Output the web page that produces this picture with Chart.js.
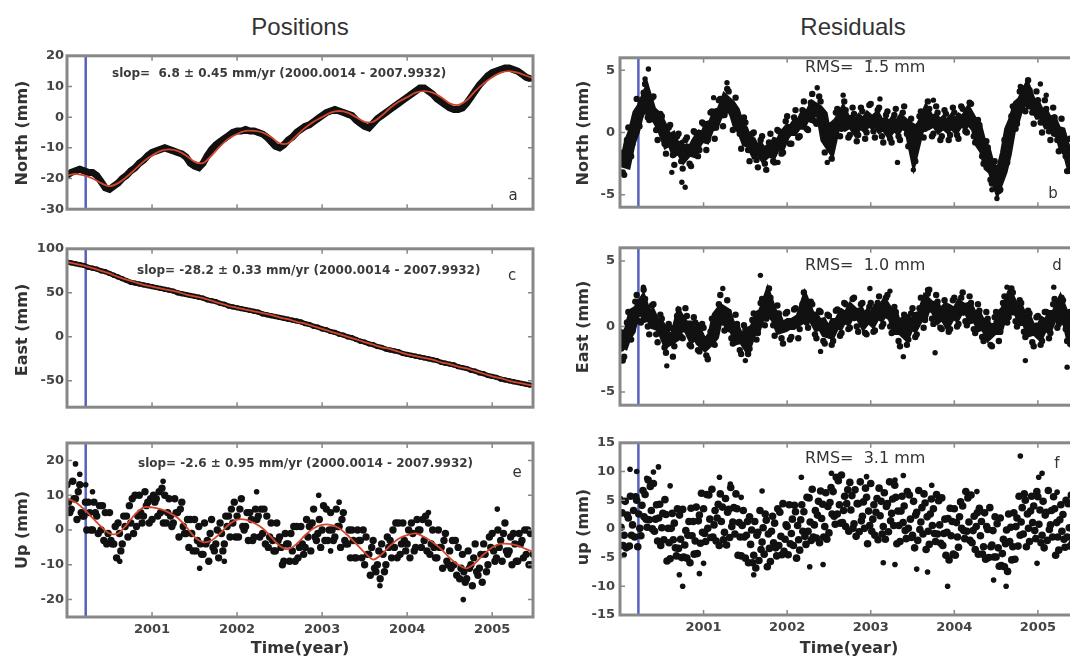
<!DOCTYPE html>
<html lang="en">
<head>
<meta charset="UTF-8">
<title>Positions and residuals</title>
<script src="https://cdn.jsdelivr.net/npm/chart.js"></script>
<style>
  html, body { margin: 0; padding: 0; background: #fff; overflow: hidden; }
  body { font-family: "DejaVu Sans", sans-serif; color: #333; }
  .page { position: relative; width: 1070px; height: 662px; overflow: hidden; }
  canvas { position: absolute; }
  .txt { position: absolute; white-space: pre; line-height: 1; }
  .title { font-family: "Liberation Sans", Arial, sans-serif; font-size: 24px; color: #333; transform: translate(-50%, -50%); }
  .ylab { font-weight: bold; font-size: 16px; color: #333; transform: translate(-50%, -50%) rotate(-90deg); }
  .slope { font-weight: bold; font-size: 12px; color: #3a3a3a; transform: translateY(-50%); }
  .rms { font-size: 16px; color: #333; transform: translateY(-50%); }
  .tag { font-size: 15px; color: #333; transform: translate(-50%, -50%); }
</style>
</head>
<body>
<div class="page">
  <div class="txt title" style="left:300px;top:27px">Positions</div>
  <div class="txt title" style="left:853px;top:27px">Residuals</div>

  <canvas id="northPos" width="540" height="175" style="left:0;top:45px"></canvas>
  <canvas id="eastPos" width="540" height="180" style="left:0;top:238px"></canvas>
  <canvas id="upPos" width="540" height="232" style="left:0;top:430px"></canvas>
  <canvas id="northRes" width="533" height="175" style="left:550px;top:45px"></canvas>
  <canvas id="eastRes" width="533" height="183" style="left:550px;top:235px"></canvas>
  <canvas id="upRes" width="533" height="232" style="left:550px;top:430px"></canvas>

  <div class="txt ylab" style="left:22px;top:133px">North (mm)</div>
  <div class="txt ylab" style="left:22px;top:330px">East (mm)</div>
  <div class="txt ylab" style="left:22px;top:530px">Up (mm)</div>
  <div class="txt ylab" style="left:583px;top:133px">North (mm)</div>
  <div class="txt ylab" style="left:583px;top:327px">East (mm)</div>
  <div class="txt ylab" style="left:583px;top:527px">up (mm)</div>

  <div class="txt slope" style="left:112px;top:73px">slop=  6.8 ± 0.45 mm/yr (2000.0014 - 2007.9932)</div>
  <div class="txt slope" style="left:137px;top:270px">slop= -28.2 ± 0.33 mm/yr (2000.0014 - 2007.9932)</div>
  <div class="txt slope" style="left:138px;top:463px">slop= -2.6 ± 0.95 mm/yr (2000.0014 - 2007.9932)</div>
  <div class="txt rms" style="left:805px;top:67px">RMS=  1.5 mm</div>
  <div class="txt rms" style="left:805px;top:265px">RMS=  1.0 mm</div>
  <div class="txt rms" style="left:805px;top:458px">RMS=  3.1 mm</div>

  <div class="txt tag" style="left:513px;top:195px">a</div>
  <div class="txt tag" style="left:512px;top:275px">c</div>
  <div class="txt tag" style="left:517px;top:472px">e</div>
  <div class="txt tag" style="left:1053px;top:193px">b</div>
  <div class="txt tag" style="left:1057px;top:265px">d</div>
  <div class="txt tag" style="left:1057px;top:463px">f</div>
</div>

<script>
// time axis (decimal year), one sample every 0.05 yr
const epochs = [
  2000.00,2000.05,2000.10,2000.15,2000.20,2000.25,2000.30,2000.35,2000.40,2000.45,
  2000.50,2000.55,2000.60,2000.65,2000.70,2000.75,2000.80,2000.85,2000.90,2000.95,
  2001.00,2001.05,2001.10,2001.15,2001.20,2001.25,2001.30,2001.35,2001.40,2001.45,
  2001.50,2001.55,2001.60,2001.65,2001.70,2001.75,2001.80,2001.85,2001.90,2001.95,
  2002.00,2002.05,2002.10,2002.15,2002.20,2002.25,2002.30,2002.35,2002.40,2002.45,
  2002.50,2002.55,2002.60,2002.65,2002.70,2002.75,2002.80,2002.85,2002.90,2002.95,
  2003.00,2003.05,2003.10,2003.15,2003.20,2003.25,2003.30,2003.35,2003.40,2003.45,
  2003.50,2003.55,2003.60,2003.65,2003.70,2003.75,2003.80,2003.85,2003.90,2003.95,
  2004.00,2004.05,2004.10,2004.15,2004.20,2004.25,2004.30,2004.35,2004.40,2004.45,
  2004.50,2004.55,2004.60,2004.65,2004.70,2004.75,2004.80,2004.85,2004.90,2004.95,
  2005.00,2005.05,2005.10,2005.15,2005.20,2005.25,2005.30,2005.35,2005.40,2005.45
];
// interleaved series are sampled a few days after the main one
const shifted = d => epochs.map(t => t + d);
// fitted model curves, one sample every 0.1 yr
const modelEpochs = [
  2000.0,2000.1,2000.2,2000.3,2000.4,2000.5,2000.6,2000.7,2000.8,2000.9,
  2001.0,2001.1,2001.2,2001.3,2001.4,2001.5,2001.6,2001.7,2001.8,2001.9,
  2002.0,2002.1,2002.2,2002.3,2002.4,2002.5,2002.6,2002.7,2002.8,2002.9,
  2003.0,2003.1,2003.2,2003.3,2003.4,2003.5,2003.6,2003.7,2003.8,2003.9,
  2004.0,2004.1,2004.2,2004.3,2004.4,2004.5,2004.6,2004.7,2004.8,2004.9,
  2005.0,2005.1,2005.2,2005.3,2005.4,2005.5
];
const yearTicks = [2001, 2002, 2003, 2004, 2005];
const changeEpoch = 2000.22;   // blue marker line

// --- positions (mm) ---
const northObs = [
  -19,-18,-17.5,-17,-17.5,-18,-18,-19,-21,-23,
  -23.5,-22.5,-21.5,-20,-19,-17.5,-16.5,-15,-14,-12.5,
  -11.5,-11,-10.5,-10,-10.5,-11,-11.5,-12,-13,-15,
  -16,-16.5,-15,-12.5,-10.5,-9,-8,-7,-6,-5,
  -4.5,-4.5,-4,-4.5,-4.5,-5,-5.5,-6.5,-8,-9.5,
  -10,-9,-7.5,-6.5,-5,-4,-3,-2.5,-1.5,-0.5,
  0.5,1.5,2,2.5,2,1.5,1,0.5,-1,-2,
  -3,-3.5,-2,-0.5,0.5,1.5,2.5,3.5,4.5,5.5,
  6.5,7.5,8.5,9.5,9.5,8.5,7.5,6,5,4,
  3,2.5,2.5,3,4.5,6.5,8.5,10.5,12,13.5,
  14.5,15,15.5,16,16,15.5,15,14,13,12.5
];
const northModel = [
  -19,-18.5,-19,-20,-21.5,-22.5,-21.5,-19.5,-17,-14.5,
  -12.5,-11,-10.5,-11,-12.5,-14.5,-15,-12.5,-9.5,-7,
  -5.5,-4.5,-4.5,-5,-6.5,-8.5,-8.5,-6,-3.5,-1.5,
  0,1.5,2,1.5,0,-1.5,-1.5,0.5,3,5,
  6.5,8,8.5,8,6.5,4.5,4,5.5,8.5,11,
  13,14.5,15,14.5,13.5,12.5
];
const eastObs = [
  85,84,83,82,81,79,78,77,75,74,
  72,70,68,66,64,62,61,60,59,58,
  57,56,55,54,53,52,50,49,48,47,
  46,45,44,42,41,40,38,37,35,34,
  33,32,31,30,29,28,26,25,24,23,
  22,21,20,19,18,17,15,14,12,11,
  9,8,6,5,3,2,0,-1,-3,-5,
  -6,-8,-9,-11,-12,-14,-15,-16,-17,-19,
  -20,-21,-22,-23,-24,-25,-26,-27,-29,-30,
  -31,-32,-34,-35,-36,-38,-39,-41,-42,-44,
  -45,-46,-48,-49,-50,-51,-52,-53,-54,-55
];
const eastModel = [
  85,83,81,78,75,72,68,65,62,59,
  57,55,53,51,48,46,44,41,38,35,
  33,31,29,27,25,22,20,17,15,12,
  9,6,3,0,-3,-6,-9,-12,-14,-17,
  -20,-22,-24,-26,-29,-31,-34,-36,-39,-42,
  -45,-47,-50,-52,-54,-56
];
const upObs1 = [
  13,6,9,13,4,8,0,4,0,5,
  5,-4,2,-4,4,2,10,10,4,8,
  3,9,5,10,9,2,5,8,-1,3,
  3,1,-7,-3,3,-4,2,-4,4,2,
  4,9,1,5,-2,4,-1,4,2,-6,
  -2,-9,-4,-6,1,1,-5,1,6,-1,
  0,6,5,-2,1,5,-4,0,-8,-3,
  -10,-7,-3,-10,-4,-10,-3,-5,2,2,
  -4,2,-5,0,-3,2,0,-8,-5,-1,
  -6,-10,-5,-7,-14,-10,-4,-11,-4,-10,
  -1,-8,-3,2,-6,-1,-9,-3,-7,-1
];
const upObs2 = [
  8,14,3,5,8,5,8,-1,7,-4,
  -3,1,-1,4,-2,9,1,5,11,2,
  10,4,12,2,4,9,-2,1,3,-1,
  -6,-4,2,-9,-5,0,-1,4,-2,8,
  -2,1,5,3,6,-2,6,-5,-3,2,
  -5,-1,-9,1,-8,-4,3,-6,-2,3,
  7,-3,0,6,-5,-3,0,-3,0,-8,
  -2,-13,-11,-6,-7,-2,-8,2,-7,-3,
  0,-1,3,-5,4,-7,-5,0,-11,-9,
  -11,-3,-14,-12,-6,-16,-12,-7,-7,-2,
  -6,0,-9,-6,-2,-4,-1,-8,0,-10
];
const upObs3 = [
  5,9,11,4,0,0,5,7,-3,-1,
  -4,-8,-6,1,7,-1,4,2,7,9,
  8,11,2,5,1,5,6,-1,-5,-6,
  -3,-7,-4,-1,-6,-8,-6,1,6,-2,
  6,0,-3,-3,3,6,-4,-2,-6,-3,
  -10,-4,-1,-9,-5,-7,-2,2,-3,-5,
  -3,0,-3,1,3,-4,-8,-8,-3,0,
  -7,-5,-12,-14,-12,-5,0,-8,-4,-6,
  -8,-6,0,3,-6,-4,-8,-5,-3,-10,
  -3,-13,-11,-15,-11,-8,-13,-15,-12,-5,
  -9,-5,-1,-7,-10,-9,-4,0,-10,-7
];
const upOutliers = [
  [2000.10,19],[2000.15,16],[2000.22,13],[2000.30,11],[2000.62,-9],[2001.13,14],
  [2001.56,-11],[2001.85,-9],[2002.23,11],[2002.96,10],[2003.10,-6],[2003.20,8],
  [2003.68,-16],[2004.25,5],[2004.66,-20],[2005.06,6]
];
const upModel = [
  9,8,6,3.5,1,-1,-1,1.5,4.5,6.5,
  6.5,6,5,3.5,1,-2,-3.5,-3,-1,1.5,
  3,3,2,0.5,-2,-4.5,-5.5,-4,-1.5,0.5,
  1.5,1.5,0.5,-1.5,-4,-6.5,-8.5,-7,-4.5,-2.5,
  -1.5,-1,-2,-3.5,-5.5,-8,-10,-11,-9.5,-7,
  -5,-4,-4,-4.5,-5.5,-6.5
];

// --- residuals (mm) ---
const northRes1 = [
  -1.6,-3.4,0.4,-0.9,2.7,1.4,3.9,1.0,2.9,-0.6,
  1.3,-1.7,0.6,-2.6,-0.1,-2.9,-0.4,-2.7,0.0,-1.4,
  0.7,-0.6,1.7,0.4,2.7,1.4,3.3,0.2,1.6,-1.3,
  0.8,-2.3,0.0,-2.8,-0.3,-3.0,-0.1,-2.4,0.1,-1.6,
  1.3,-0.9,1.8,-0.3,2.5,0.2,3.1,0.7,2.5,-1.6,
  0.1,-0.6,1.9,0.3,1.8,-0.2,1.5,-0.2,1.7,0.0,
  2.3,-0.4,2.0,-0.8,1.7,-0.8,1.9,-0.6,2.1,-1.1,
  -0.1,-0.9,1.7,0.3,1.9,-0.1,1.6,-0.3,1.5,-0.2,
  1.6,-0.5,1.9,0.0,2.3,-0.8,0.6,-2.5,-1.2,-4.1,
  -2.9,-4.6,-0.6,-1.3,2.1,0.7,3.6,1.7,3.4,0.7,
  2.6,0.0,1.9,-0.6,1.2,-1.5,-0.1,-3.1,-1.8,-4.5
];
const northRes2 = [
  -2.3,-2.4,-0.8,0.1,1.5,2.0,2.8,1.7,1.4,0.9,
  0.2,-0.7,-0.5,-1.4,-1.2,-1.8,-1.4,-1.5,-0.8,-0.3,
  -0.4,0.5,0.6,1.5,1.6,2.5,2.2,1.7,0.6,0.2,
  -0.7,-0.8,-1.5,-1.3,-1.8,-1.5,-1.6,-0.9,-1.0,-0.2,
  0.2,0.2,0.7,0.7,1.4,1.3,2.0,1.8,1.4,-0.5,
  -1.0,0.5,0.8,1.4,0.7,0.9,0.4,0.9,0.6,1.1,
  0.8,1.1,0.5,0.7,0.2,0.7,0.4,0.9,0.6,0.4,
  -1.2,0.2,0.6,1.4,0.8,1.0,0.5,0.8,0.5,0.9,
  0.5,1.0,0.8,1.4,0.8,0.4,-0.9,-1.4,-2.7,-3.0,
  -4.0,-3.1,-1.7,0.2,1.0,2.2,2.5,3.2,2.3,2.2,
  1.5,1.5,0.8,0.9,0.1,0.0,-1.2,-1.6,-2.9,-3.0
];
const northRes3 = [
  -3.2,-0.6,-1.9,1.2,0.5,3.2,1.2,2.8,0.2,1.5,
  -0.9,0.4,-1.8,-0.3,-2.3,-0.6,-2.5,0.1,-1.9,0.8,
  -1.4,1.6,-0.5,2.6,0.5,3.5,1.6,2.8,-0.1,1.2,
  -1.4,-0.1,-2.2,-0.6,-2.5,-0.8,-2.3,0.2,-1.7,0.9,
  -0.9,1.2,-0.4,1.8,0.3,2.4,0.9,2.9,0.0,0.6,
  -2.1,1.6,-0.3,2.5,-0.4,2.0,-0.7,2.0,-0.5,2.2,
  0.1,1.8,-0.3,1.4,-0.5,1.4,-0.3,1.6,-0.1,1.1,
  -2.3,1.3,-0.4,2.5,-0.3,2.1,-0.6,1.8,-0.6,2.0,
  -0.2,2.1,0.1,2.4,-0.3,1.0,-1.9,-0.7,-3.8,-2.3,
  -4.7,-2.0,-2.4,1.3,0.3,3.3,1.8,4.2,1.6,3.3,
  0.8,2.6,0.1,2.0,-0.6,1.1,-1.9,-0.5,-3.6,-1.9
];
const northResOutliers = [
  [2000.30,4.3],[2000.34,5.1],[2000.62,-3.2],[2000.74,-4.0],[2000.78,-4.4],[2001.12,2.8],
  [2001.28,4.0],[2001.89,-2.4],[2002.36,3.6],[2002.48,-2.4],[2002.67,3.0],[2003.11,2.7],
  [2003.32,-2.4],[2003.51,-3.0],[2003.75,2.6],[2004.45,-4.6],[2004.51,-5.3],[2004.79,3.7],
  [2005.03,3.9],[2005.10,3.0]
];
const eastRes1 = [
  -0.4,-2.3,1.1,-0.3,2.4,0.3,2.1,-0.6,1.7,-1.2,
  0.6,-2.0,-0.1,-1.5,1.3,-0.9,0.8,-1.5,0.3,-1.9,
  -0.1,-2.5,0.6,-0.4,2.4,-0.3,1.1,-1.3,0.2,-2.1,
  -0.2,-1.7,1.0,-0.5,2.1,0.6,2.2,-0.7,1.0,-1.3,
  1.1,-0.8,1.4,-0.2,2.6,-0.1,1.7,-0.9,1.1,-1.3,
  0.8,-1.1,1.3,-0.5,1.7,-0.1,2.2,-0.4,1.8,-0.6,
  1.8,-0.3,2.3,0.2,2.4,-0.5,1.1,-1.5,0.9,-1.0,
  1.4,-0.6,2.2,0.5,2.8,0.2,1.9,-0.2,1.6,-0.2,
  2.2,0.2,2.6,0.1,1.8,-0.5,1.2,-1.1,0.6,-1.5,
  1.1,-0.4,2.3,0.7,2.6,0.0,1.8,-0.8,1.0,-1.5,
  0.8,-1.1,1.1,-0.5,2.1,0.2,2.0,-1.1,0.1,-2.7
];
const eastRes2 = [
  -1.7,-0.8,-0.3,1.0,1.2,1.7,0.8,0.9,0.2,0.1,
  -0.3,-1.1,-0.9,-0.7,0.5,0.0,0.0,-0.7,-0.4,-1.1,
  -1.4,-1.1,-0.7,0.8,1.2,1.0,0.0,-0.1,-0.9,-0.8,
  -1.3,-0.4,-0.2,0.8,1.0,1.9,1.0,0.7,-0.1,0.0,
  0.2,0.2,0.4,0.6,1.6,0.8,0.7,0.1,0.2,-0.4,
  -0.5,0.2,0.2,0.8,0.6,1.2,0.9,1.0,0.4,0.8,
  0.5,1.1,0.9,1.5,1.0,0.8,-0.2,-0.2,-0.5,0.3,
  0.1,0.7,0.8,1.8,1.5,1.5,0.8,1.1,0.5,1.1,
  0.9,1.5,1.3,1.4,0.7,0.8,0.1,0.2,-0.5,-0.2,
  -0.2,0.9,1.2,2.0,1.3,1.3,0.5,0.5,-0.3,-0.2,
  -0.5,0.2,0.0,0.8,0.8,1.5,0.7,0.2,-1.2,-1.4
];
const eastRes3 = [
  -2.6,0.3,-1.0,1.9,0.4,2.8,0.0,1.6,-0.6,0.9,
  -1.6,0.2,-2.3,0.8,-0.8,1.4,-1.4,0.7,-1.8,0.2,
  -2.2,-0.4,-1.4,1.7,0.3,2.0,-0.9,0.9,-1.8,0.1,
  -2.1,0.5,-1.0,1.8,0.1,2.9,0.1,1.6,-0.9,1.0,
  -1.0,1.3,-0.9,1.7,0.3,1.9,-0.6,1.2,-1.1,0.9,
  -1.4,1.2,-0.7,1.8,-0.2,2.1,0.0,1.7,-0.5,1.5,
  -0.4,1.8,0.0,2.2,0.0,1.5,-1.1,0.5,-1.4,1.0,
  -0.8,1.4,-0.1,2.5,0.6,2.4,-0.1,2.0,-0.4,2.0,
  0.0,2.2,0.4,2.3,-0.2,1.7,-0.8,1.1,-1.4,0.7,
  -1.1,1.8,0.3,2.9,0.4,2.0,-0.4,1.2,-1.2,0.7,
  -1.4,1.1,-0.9,1.7,-0.1,2.2,-0.2,1.1,-2.1,-0.5
];
const eastResOutliers = [
  [2000.28,3.0],[2000.56,-3.0],[2001.05,-2.4],[2001.23,2.9],[2001.50,-2.6],[2001.68,3.9],
  [2002.40,-1.9],[2002.99,2.9],[2003.23,2.7],[2003.39,-2.3],[2003.68,2.8],[2003.77,-2.0],
  [2004.63,3.0],[2004.85,-2.6],[2005.19,3.0],[2005.35,-3.1]
];
const upRes1 = [
  5.1,-1.1,1.9,0.7,5.0,-1.2,6.0,1.6,7.9,-2.1,
  0.2,2.5,-5.2,1.0,-3.4,3.4,-5.1,3.6,-2.1,2.4,
  3.5,0.1,6.9,-2.1,6.1,-0.6,3.4,1.2,3.5,-4.7,
  -5.1,2.1,-4.6,-0.6,-2.3,1.5,-5.7,1.0,-2.9,4.4,
  0.4,-0.8,3.0,-3.7,3.0,-0.4,6.9,-1.6,6.6,0.4,
  -0.7,6.5,2.6,9.4,0.4,8.1,0.9,4.4,2.2,5.5,
  7.9,-1.1,7.1,0.4,4.4,2.7,5.5,-2.2,4.0,0.1,
  -1.1,2.9,1.2,4.5,-2.7,3.5,-0.9,5.4,-4.6,3.6,
  3.5,-3.2,4.0,-0.4,5.9,-3.6,3.6,-3.1,-0.1,-2.8,
  -4.9,1.9,-6.6,2.6,-3.1,1.9,1.2,5.0,-2.2,4.0,
  5.6,-1.1,2.9,0.7,3.5,-3.7,2.5,-1.4,5.9,-3.6
];
const upRes2 = [
  0.3,4.8,-3.0,3.2,-3.1,4.1,1.7,7.4,-0.4,1.9,
  2.7,-5.6,0.1,-3.3,2.4,-4.9,-1.1,-1.2,3.8,-2.5,
  -0.8,5.9,-1.4,1.9,1.3,5.3,-1.5,3.7,-4.6,0.6,
  -1.1,-2.7,1.3,-5.5,0.2,-6.6,-0.4,-3.3,2.9,-3.9,
  -4.5,1.7,-5.1,1.6,-1.3,5.4,-1.4,2.4,1.8,6.3,
  4.6,2.2,8.4,1.1,4.4,3.3,6.8,-0.5,4.7,-2.6,
  -0.4,2.9,2.3,6.3,-0.5,5.2,-2.6,3.1,-0.3,5.9,
  4.8,-2.0,3.7,-3.6,2.6,-0.8,4.9,-2.9,-0.6,-1.2,
  -4.6,2.1,-0.3,5.4,-2.4,0.4,-1.2,2.8,-5.0,-0.3,
  0.9,-6.4,-2.6,-2.2,2.8,-3.0,3.7,-3.1,3.1,-0.3,
  0.8,4.8,-2.0,3.2,-4.6,1.6,-1.8,4.4,-2.4,0.4
];
const upRes3 = [
  2.8,-3.3,5.7,-1.4,2.6,6.7,0.3,3.2,1.7,4.3,
  -1.9,0.1,2.7,-4.7,-1.8,-2.8,1.3,1.3,-4.3,6.2,
  -2.2,1.7,0.7,4.3,3.8,-2.8,7.2,-0.9,1.1,3.2,
  1.3,-0.2,-6.8,3.2,-4.4,-0.9,2.2,-4.7,-1.3,-1.8,
  4.2,-2.9,0.6,4.2,-2.7,1.2,0.7,4.8,4.3,-1.8,
  7.2,0.8,4.2,3.2,6.8,5.8,-1.3,8.2,0.1,3.1,
  1.7,5.3,4.8,-1.8,8.2,0.6,3.1,5.7,-1.7,1.7,
  -3.3,6.7,-0.9,2.1,5.2,-2.2,0.7,-0.8,1.8,1.3,
  1.1,4.7,-1.7,1.2,-0.3,2.8,1.3,-5.3,3.7,-4.9,
  -3.3,-4.3,-0.2,0.3,-5.3,5.7,-0.9,2.6,5.7,-1.7,
  3.3,-3.3,6.7,-1.4,1.1,4.2,-3.2,0.2,-0.3,2.8
];
const upRes4 = [
  -2.9,2.4,-1.1,5.6,0.1,2.1,8.5,0.0,4.2,-2.9,
  5.1,-2.4,-1.9,3.5,-5.0,-0.3,-5.9,-4.4,1.4,-0.6,
  6.0,-1.5,3.2,-2.9,-1.9,2.9,0.4,6.1,-1.4,-1.4,
  -5.9,-5.9,-1.1,-3.6,2.6,-3.4,-2.4,3.5,-4.5,0.7,
  -2.6,4.1,-1.9,-0.4,5.5,-2.0,3.2,-2.4,-1.4,3.9,
  2.6,9.0,1.0,5.7,-0.4,0.1,4.4,1.4,7.1,0.6,
  4.2,-1.9,-0.9,3.9,1.4,7.6,0.6,1.1,6.5,-1.5,
  2.4,-0.1,6.1,-0.4,0.6,6.0,-2.5,1.7,-5.4,-4.4,
  -1.4,0.1,6.5,-2.0,2.2,-4.4,-4.4,0.4,-3.1,2.1,
  -6.5,-1.8,-7.4,-5.4,0.4,-1.1,6.1,0.1,1.1,6.5,
  -2.4,2.4,-0.1,5.6,-1.4,-0.4,5.0,-3.0,2.2,-4.4
];
const upResOutliers = [
  [2000.05,-4.5],[2000.12,10.4],[2000.20,10.0],[2000.32,8.8],[2000.40,9.9],[2000.46,10.8],
  [2000.60,7.5],[2000.71,-8.0],[2000.75,-10.0],[2000.95,-7.8],[2001.00,-6.0],[2001.19,9.0],
  [2001.32,7.8],[2001.45,5.5],[2001.60,-8.0],[2001.70,6.6],[2002.17,9.0],[2002.27,-6.6],
  [2002.43,-6.2],[2002.53,9.7],[2002.95,9.1],[2003.15,-5.9],[2003.29,8.5],[2003.29,-6.2],
  [2003.39,9.3],[2003.55,-7.0],[2003.68,-7.5],[2003.73,7.6],[2003.92,-10.0],[2004.27,6.5],
  [2004.47,-8.9],[2004.62,-10.0],[2004.79,12.7],[2004.99,-6.0],[2005.01,9.0],[2005.05,9.7],
  [2005.23,6.4]
];

// ---------------------------------------------------------------
Chart.defaults.font.family = '"DejaVu Sans", sans-serif';

const pts = (xs, ys) => xs.map((x, i) => ({ x: x, y: ys[i] }));
const pairPts = arr => arr.map(p => ({ x: p[0], y: p[1] }));
const INK = '#111';

function dots(data, r) {
  return { type: 'scatter', data: data, showLine: false, pointRadius: r,
           pointBackgroundColor: INK, pointBorderWidth: 0, order: 2, clip: 0 };
}
// dense daily observations: a thick trace through the series
function trace(data, w, r) {
  return { type: 'line', data: data, borderColor: INK, borderWidth: w, tension: 0,
           pointRadius: r, pointBackgroundColor: INK, pointBorderWidth: 0, order: 3, clip: 0 };
}
function model(data) {
  return { type: 'line', data: data, borderColor: '#d4462c', borderWidth: 1.8, tension: 0.3,
           pointRadius: 0, order: 0, clip: 0 };
}

// frame, inward tick marks and the blue marker line
const framePlugin = {
  id: 'frame',
  beforeDatasetsDraw(chart) {
    const { ctx, chartArea: a, scales: { x } } = chart;
    const px = x.getPixelForValue(changeEpoch);
    ctx.save();
    ctx.strokeStyle = '#5662bb';
    ctx.lineWidth = 2.5;
    ctx.beginPath();
    ctx.moveTo(px, a.top);
    ctx.lineTo(px, a.bottom);
    ctx.stroke();
    ctx.restore();
  },
  afterDatasetsDraw(chart, args, opts) {
    const { ctx, chartArea: a, scales: { x, y } } = chart;
    ctx.save();
    ctx.strokeStyle = '#888';
    ctx.lineWidth = 1.5;
    ctx.beginPath();
    yearTicks.forEach(v => {
      const p = x.getPixelForValue(v);
      ctx.moveTo(p, a.top); ctx.lineTo(p, a.top + 5);
      ctx.moveTo(p, a.bottom); ctx.lineTo(p, a.bottom - 5);
    });
    opts.yTicks.forEach(v => {
      const p = y.getPixelForValue(v);
      ctx.moveTo(a.left, p); ctx.lineTo(a.left + 5, p);
      ctx.moveTo(a.right, p); ctx.lineTo(a.right - 5, p);
    });
    ctx.stroke();
    ctx.lineWidth = 3;
    ctx.strokeRect(a.left, a.top, a.right - a.left, a.bottom - a.top);
    ctx.restore();
  }
};

function panel(id, p) {
  return new Chart(document.getElementById(id), {
    type: 'scatter',
    data: { datasets: p.datasets },
    options: {
      responsive: false,
      animation: false,
      events: [],
      layout: { padding: { top: p.padTop, bottom: p.padBottom, left: 0, right: p.padRight } },
      plugins: { legend: { display: false }, tooltip: { enabled: false }, frame: { yTicks: p.yTicks } },
      scales: {
        x: {
          type: 'linear', min: 2000, max: 2005.48, display: p.showX,
          afterFit: s => { s.height = p.xHeight || 0; },
          afterBuildTicks: s => { s.ticks = yearTicks.map(v => ({ value: v })); },
          grid: { display: false, drawTicks: false },
          border: { display: false },
          ticks: { padding: 5, color: '#444', font: { size: 13, weight: 'bold' }, callback: v => String(v) },
          title: { display: true, text: 'Time(year)', color: '#333', font: { size: 16, weight: 'bold' },
                   padding: { top: 0, bottom: 4 } }
        },
        y: {
          type: 'linear', min: p.yMin, max: p.yMax,
          afterFit: s => { s.width = p.yWidth; },
          afterBuildTicks: s => { s.ticks = p.yTicks.map(v => ({ value: v })); },
          grid: { display: false, drawTicks: false },
          border: { display: false },
          ticks: { padding: p.tickPad, color: '#444', font: { size: 13, weight: 'bold' }, callback: v => String(v) }
        }
      }
    },
    plugins: [framePlugin]
  });
}

panel('northPos', {
  yMin: -30, yMax: 20, yTicks: [-30, -20, -10, 0, 10, 20], yWidth: 67, tickPad: 3,
  padTop: 8, padBottom: 6, padRight: 7, showX: false,
  datasets: [model(pts(modelEpochs, northModel)), trace(pts(epochs, northObs), 7, 3)]
});
panel('eastPos', {
  yMin: -80, yMax: 100, yTicks: [-50, 0, 50, 100], yWidth: 67, tickPad: 3,
  padTop: 10, padBottom: 6, padRight: 7, showX: false,
  datasets: [model(pts(modelEpochs, eastModel)), trace(pts(epochs, eastObs), 5, 2.6)]
});
panel('upPos', {
  yMin: -25, yMax: 25, yTicks: [-20, -10, 0, 10, 20], yWidth: 67, tickPad: 3,
  padTop: 13, padBottom: 0, padRight: 7, showX: true, xHeight: 45,
  datasets: [
    model(pts(modelEpochs, upModel)),
    dots(pts(epochs, upObs1), 3.7), dots(pts(shifted(0.017), upObs2), 3.7),
    dots(pts(shifted(0.033), upObs3), 3.7), dots(pairPts(upOutliers), 2.8)
  ]
});
panel('northRes', {
  yMin: -6, yMax: 6, yTicks: [-5, 0, 5], yWidth: 70, tickPad: 5,
  padTop: 8, padBottom: 7, padRight: 5, showX: false,
  datasets: [
    trace(pts(shifted(0.017), northRes2), 12, 3),
    dots(pts(epochs, northRes1), 3.2), dots(pts(shifted(0.033), northRes3), 3.2),
    dots(pairPts(northResOutliers), 2.7)
  ]
});
panel('eastRes', {
  yMin: -6, yMax: 6, yTicks: [-5, 0, 5], yWidth: 70, tickPad: 5,
  padTop: 9, padBottom: 7, padRight: 5, showX: false,
  datasets: [
    trace(pts(shifted(0.017), eastRes2), 12, 3),
    dots(pts(epochs, eastRes1), 3.2), dots(pts(shifted(0.033), eastRes3), 3.2),
    dots(pairPts(eastResOutliers), 2.7)
  ]
});
panel('upRes', {
  yMin: -15, yMax: 15, yTicks: [-15, -10, -5, 0, 5, 10, 15], yWidth: 70, tickPad: 5,
  padTop: 10, padBottom: 0, padRight: 5, showX: true, xHeight: 47,
  datasets: [
    dots(pts(epochs, upRes1), 3.8), dots(pts(shifted(0.0125), upRes2), 3.8),
    dots(pts(shifted(0.025), upRes3), 3.8), dots(pts(shifted(0.0375), upRes4), 3.8),
    dots(pairPts(upResOutliers), 2.8)
  ]
});
</script>
</body>
</html>
